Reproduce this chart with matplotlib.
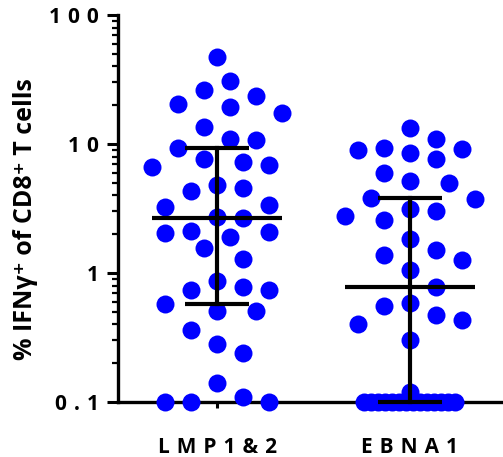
#!/usr/bin/env python3
"""Scatter dot plot (median with IQR) of IFNg+ CD8+ T cell responses."""

import numpy as np
import matplotlib
matplotlib.use('Agg')
import matplotlib.pyplot as plt

plt.rcParams['font.family'] = ['Open Sans', 'DejaVu Sans']
plt.rcParams['font.weight'] = 'bold'

# Data (percent IFNg+ of CD8+ T cells)
GROUPS = ['LMP1&2', 'EBNA1']
LMP12 = [47.5, 31, 26.2, 23.5, 20.4, 19.2, 17.5, 13.6, 11, 10.7, 9.36,
         7.6, 7.2, 6.9, 6.67, 4.78, 4.58, 4.34, 3.38, 3.23, 2.73, 2.65,
         2.12, 2.09, 2.05, 1.91, 1.55, 1.28, 0.86, 0.78, 0.743, 0.734,
         0.572, 0.51, 0.507, 0.361, 0.28, 0.238, 0.14, 0.109, 0.1, 0.1, 0.1]
EBNA1 = [13.4, 10.9, 9.36, 9.15, 8.94, 8.47, 7.6, 5.93, 5.17, 4.96, 3.83,
         3.75, 3.12, 3.02, 2.77, 2.56, 1.82, 1.51, 1.37, 1.25, 1.05, 0.775,
         0.582, 0.555, 0.47, 0.432, 0.402, 0.301, 0.12,
         0.1, 0.1, 0.1, 0.1, 0.1, 0.1, 0.1, 0.1, 0.1, 0.1, 0.1, 0.1, 0.1, 0.1]
Y_TICKS = [0.1, 1, 10, 100]
Y_LABEL = '% IFNγ⁺ of CD8⁺ T cells'

DOT_COLOR = '#0000FF'
DOT_PX = 18      # dot diameter in pixels
STEP_PX = 13     # horizontal grid step of the swarm
MIN_DIST = 25    # minimum centre distance between dots
MAX_STEPS = 5


def spaced(s, sep):
    return sep.join(s)


def swarm_offsets(values, ax, center):
    """Beeswarm-like horizontal offsets (data units) for one column."""
    values = np.asarray(values, dtype=float)
    pts = np.column_stack([np.full(len(values), center), values])
    ypix = ax.transData.transform(pts)[:, 1]
    px_per_unit = ax.transData.transform((1, 1))[0] - ax.transData.transform((0, 1))[0]
    cands = [0] + [s * k for k in range(1, MAX_STEPS + 1) for s in (1, -1)]
    fit = int(2 * MAX_STEPS * STEP_PX / MIN_DIST) + 1
    placed = []
    xoff = np.zeros(len(values))
    for v in sorted(set(values), reverse=True):
        idx = np.where(values == v)[0]
        if len(idx) > fit:
            # too many ties for one row: squeeze them into the column width
            half = 0.7 * MAX_STEPS * STEP_PX
            for i, off in zip(idx, np.linspace(-half, half, len(idx))):
                xoff[i] = off
                placed.append((off, ypix[i]))
            continue
        for i in idx:
            best, best_d = 0, -1
            for c in cands:
                x = c * STEP_PX
                d = min([np.hypot(x - px, ypix[i] - py) for px, py in placed] or [1e9])
                if d >= MIN_DIST:
                    best = x
                    break
                if d > best_d:
                    best, best_d = x, d
            xoff[i] = best
            placed.append((best, ypix[i]))
    return xoff / px_per_unit


fig = plt.figure(figsize=(5.03, 4.57), dpi=100)
ax = fig.add_axes([118 / 503, 1 - 402 / 457, (503 - 118) / 503, 387 / 457])
ax.set_yscale('log')
ax.set_ylim(0.1, 100)
ax.set_xlim(-0.513, 1.482)

for pos, vals in enumerate([LMP12, EBNA1]):
    xo = swarm_offsets(vals, ax, pos)
    ax.plot(pos + xo, vals, 'o', color=DOT_COLOR, markersize=DOT_PX * 0.72,
            markeredgewidth=0, clip_on=False, zorder=3)
    q1, med, q3 = np.percentile(vals, [25, 50, 75], method='weibull')
    ax.plot([pos - 0.337, pos + 0.337], [med, med], color='black', lw=3, zorder=4,
            solid_capstyle='butt', clip_on=False)
    ax.plot([pos, pos], [q1, q3], color='black', lw=3, zorder=4, clip_on=False)
    for q in (q1, q3):
        ax.plot([pos - 0.168, pos + 0.168], [q, q], color='black', lw=3, zorder=4,
                solid_capstyle='butt', clip_on=False)

for side in ('top', 'right'):
    ax.spines[side].set_visible(False)
for side in ('left', 'bottom'):
    ax.spines[side].set_linewidth(2.4)
    ax.spines[side].set_zorder(2)

ax.set_yticks(Y_TICKS)
ax.set_yticklabels([spaced(f'{t:g}', '\u2004') for t in Y_TICKS], fontsize=15, fontweight='bold')
ax.yaxis.set_minor_locator(matplotlib.ticker.LogLocator(base=10, subs=np.arange(2, 10)))
ax.yaxis.set_minor_formatter(matplotlib.ticker.NullFormatter())
ax.tick_params(axis='y', which='major', direction='out', length=8, width=2.2, pad=6)
ax.tick_params(axis='y', which='minor', direction='out', length=4.5, width=1.6)

ax.set_xticks(range(len(GROUPS)))
ax.set_xticklabels([spaced(g, '\u2004') for g in GROUPS], fontsize=15, fontweight='bold')
ax.tick_params(axis='x', direction='out', length=4, width=2.2, pad=21)

ax.set_ylabel(Y_LABEL, fontsize=18, fontweight='bold')
ax.yaxis.set_label_coords((38 - 118) / 385, (402 - 219) / 387)

fig.savefig('out.png', dpi=100)
